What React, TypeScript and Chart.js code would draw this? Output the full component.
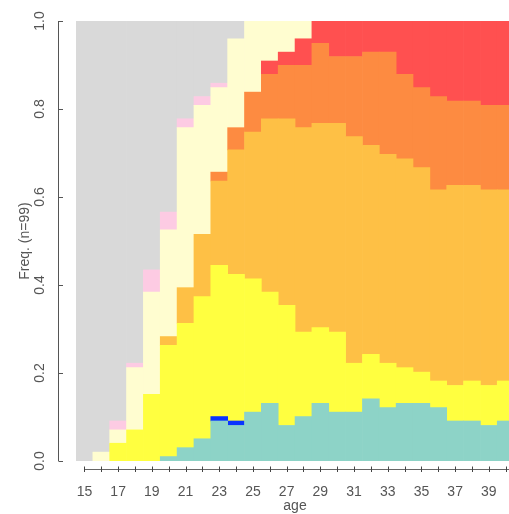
import React, { useEffect, useRef } from "react";
import { Chart, registerables } from "chart.js";

Chart.register(...registerables);

// Sequence state distribution, n = 99 (counts per age)
const ages = [15, 16, 17, 18, 19, 20, 21, 22, 23, 24, 25, 26, 27, 28, 29, 30, 31, 32, 33, 34, 35, 36, 37, 38, 39, 40];
const nTotal = 99;
const tealCounts = [0, 0, 0, 0, 0, 1, 3, 5, 9, 8, 11, 13, 8, 10, 13, 11, 11, 14, 12, 13, 13, 12, 9, 9, 8, 9];
const blueCounts = [0, 0, 0, 0, 0, 0, 0, 0, 1, 1, 0, 0, 0, 0, 0, 0, 0, 0, 0, 0, 0, 0, 0, 0, 0, 0];
const yellowCounts = [0, 0, 4, 7, 15, 25, 28, 32, 34, 33, 30, 25, 27, 19, 17, 18, 11, 10, 10, 8, 7, 6, 8, 9, 9, 9];
const lightOrangeCounts = [0, 0, 0, 0, 0, 2, 8, 14, 19, 28, 33, 39, 42, 46, 46, 47, 51, 47, 47, 47, 46, 43, 45, 44, 44, 43];
const orangeCounts = [0, 0, 0, 0, 0, 0, 0, 0, 2, 5, 9, 10, 12, 14, 18, 15, 18, 21, 23, 19, 18, 21, 19, 19, 19, 19];
const redCounts = [0, 0, 0, 0, 0, 0, 0, 0, 0, 0, 0, 3, 3, 6, 5, 8, 8, 7, 7, 12, 15, 17, 18, 18, 19, 19];
const creamCounts = [0, 2, 3, 14, 23, 24, 36, 29, 19, 20, 16, 9, 7, 4, 0, 0, 0, 0, 0, 0, 0, 0, 0, 0, 0, 0];
const pinkCounts = [0, 0, 2, 1, 5, 4, 2, 2, 1, 0, 0, 0, 0, 0, 0, 0, 0, 0, 0, 0, 0, 0, 0, 0, 0, 0];
const greyCounts = [99, 97, 90, 77, 56, 43, 22, 17, 14, 4, 0, 0, 0, 0, 0, 0, 0, 0, 0, 0, 0, 0, 0, 0, 0, 0];

const yTicks = [0, 0.2, 0.4, 0.6, 0.8, 1.0];
const xTickLabels = [15, 17, 19, 21, 23, 25, 27, 29, 31, 33, 35, 37, 39];

const series = [
  { name: "teal", counts: tealCounts, color: "#8DD3C7" },
  { name: "blue", counts: blueCounts, color: "#0A34FF" },
  { name: "yellow", counts: yellowCounts, color: "#FFFF40" },
  { name: "lightorange", counts: lightOrangeCounts, color: "#FEC045" },
  { name: "orange", counts: orangeCounts, color: "#FD8B41" },
  { name: "red", counts: redCounts, color: "#FF5050" },
  { name: "cream", counts: creamCounts, color: "#FFFDD0" },
  { name: "pink", counts: pinkCounts, color: "#FDCBE3" },
  { name: "grey", counts: greyCounts, color: "#D9D9D9" },
];

const FONT = "14px 'Liberation Sans', Arial, Helvetica, sans-serif";
const TEXT_COLOR = "#555555";

const axesPlugin = {
  id: "rAxes",
  afterDraw(chart: any) {
    const ctx = chart.ctx as CanvasRenderingContext2D;
    const xs = chart.scales.x;
    const ys = chart.scales.y;
    ctx.save();
    ctx.strokeStyle = "#555555";
    ctx.fillStyle = TEXT_COLOR;
    ctx.lineWidth = 1;
    ctx.font = FONT;

    // Y axis
    const yAxisX = 58.5;
    const y0 = ys.getPixelForValue(0);
    const y1 = ys.getPixelForValue(1);
    ctx.beginPath();
    ctx.moveTo(yAxisX, y0);
    ctx.lineTo(yAxisX, y1);
    ctx.stroke();
    yTicks.forEach((t) => {
      const py = Math.round(ys.getPixelForValue(t)) + 0.5;
      ctx.beginPath();
      ctx.moveTo(yAxisX, py);
      ctx.lineTo(yAxisX + 4.5, py);
      ctx.stroke();
      ctx.save();
      ctx.translate(40, ys.getPixelForValue(t));
      ctx.rotate(-Math.PI / 2);
      ctx.textAlign = "center";
      ctx.textBaseline = "middle";
      ctx.fillText(t.toFixed(1), 0, 0);
      ctx.restore();
    });
    ctx.save();
    ctx.translate(25, (y0 + y1) / 2);
    ctx.rotate(-Math.PI / 2);
    ctx.textAlign = "center";
    ctx.textBaseline = "middle";
    ctx.fillText("Freq. (n=99)", 0, 0);
    ctx.restore();

    // X axis
    const xAxisY = 469.5;
    ctx.strokeStyle = "#666666";
    ctx.beginPath();
    ctx.moveTo(xs.getPixelForValue(ages[0]), xAxisY);
    ctx.lineTo(chart.chartArea.right, xAxisY);
    ctx.stroke();
    ctx.strokeStyle = "#444444";
    ages.forEach((a) => {
      const px = Math.round(xs.getPixelForValue(a)) + 0.5;
      ctx.beginPath();
      ctx.moveTo(px, xAxisY - 3);
      ctx.lineTo(px, xAxisY + 2.5);
      ctx.stroke();
    });
    ctx.textAlign = "center";
    ctx.textBaseline = "middle";
    xTickLabels.forEach((a) => {
      ctx.fillText(String(a), xs.getPixelForValue(a), 492);
    });
    ctx.fillText("age", 295, 506);
    ctx.restore();
  },
};

export default function App() {
  const ref = useRef<HTMLCanvasElement | null>(null);
  useEffect(() => {
    if (!ref.current) return;
    const datasets = series.map((s) => ({
      label: s.name,
      data: ages.map((a, i) => ({ x: a, y: s.counts[i] > 0 ? s.counts[i] / nTotal : null })),
      backgroundColor: s.color,
      borderWidth: 0,
      barPercentage: 1,
      categoryPercentage: 1,
      stack: "s",
    }));
    const chart = new Chart(ref.current, {
      type: "bar",
      data: { datasets } as any,
      options: {
        responsive: false,
        animation: false,
        devicePixelRatio: 1,
        layout: { padding: { left: 76, right: 0, top: 21, bottom: 53 } },
        plugins: { legend: { display: false }, tooltip: { enabled: false } },
        scales: {
          x: {
            type: "linear",
            min: 14.5,
            max: 14.5 + 433 / 16.85,
            stacked: true,
            display: false,
            offset: false,
          },
          y: { min: 0, max: 1, stacked: true, display: false },
        },
      },
      plugins: [axesPlugin],
    });
    return () => chart.destroy();
  }, []);
  return (
    <div style={{ position: "fixed", left: 0, top: 0, width: 509, height: 514, background: "#ffffff" }}>
      <canvas ref={ref} width={509} height={514} style={{ display: "block" }} />
    </div>
  );
}
